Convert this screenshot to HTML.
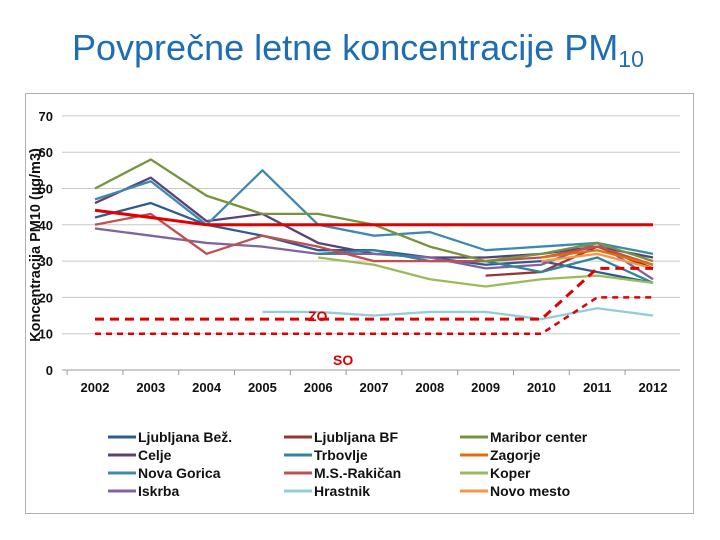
<!DOCTYPE html>
<html><head><meta charset="utf-8">
<style>
body{margin:0;width:720px;height:540px;background:#fff;overflow:hidden;font-family:"Liberation Sans",sans-serif;}
#title{position:absolute;left:72px;top:27px;font-size:36px;color:#1f6db3;white-space:nowrap;}
#title sub{font-size:23px;vertical-align:-7px;}
#frame{position:absolute;left:25px;top:93px;width:667px;height:419px;border:1px solid #b0b0b0;}
svg{position:absolute;left:0;top:0;}
</style></head><body>
<div id="title">Povprečne letne koncentracije PM<sub>10</sub></div>
<div id="frame"></div>
<svg id="chart" width="720" height="540"></svg>
<script>
const years=[2002,2003,2004,2005,2006,2007,2008,2009,2010,2011,2012];
const yTicks=[0,10,20,30,40,50,60,70];
const names=["Ljubljana Bež.","Celje","Nova Gorica","Iskrba","Ljubljana BF","Trbovlje","M.S.-Rakičan","Hrastnik","Maribor center","Zagorje","Koper","Novo mesto"];
const colors=["#2f5b8e","#5a4278","#3d8ab0","#8064a2","#943634","#31859c","#c0504d","#93cddd","#77933c","#e46c0a","#9bbb59","#f79646"];
const sLjBez=[42,46,40,37,33,33,31,29,30,27,24];
const sCelje=[46,53,41,43,35,32,31,31,32,34,31];
const sNovaGorica=[47,52,40,55,40,37,38,33,34,35,32];
const sIskrba=[39,37,35,34,32,32,31,28,29,35,25];
const sLjBF=[null,null,null,null,null,null,null,26,27,34,28];
const sTrbovlje=[null,null,null,null,32,33,30,30,27,31,24];
const sRakican=[40,43,32,37,34,30,30,30,31,34,29];
const sHrastnik=[null,null,null,16,16,15,16,16,14,17,15];
const sMaribor=[50,58,48,43,43,40,34,30,32,35,30];
const sZagorje=[null,null,null,null,null,null,null,null,31,33,29];
const sKoper=[null,null,null,null,31,29,25,23,25,26,24];
const sNovoMesto=[null,null,null,null,null,null,null,null,30,32,28];
const limitDay=[44,42,40,40,40,40,40,40,40,40,40];
const limitZO=[14,14,14,14,14,14,14,14,14,28,28];
const limitSO=[10,10,10,10,10,10,10,10,10,20,20];
const series=[sLjBez,sCelje,sNovaGorica,sIskrba,sLjBF,sTrbovlje,sRakican,sHrastnik,sMaribor,sZagorje,sKoper,sNovoMesto];

const svg=document.getElementById('chart');
const NS="http://www.w3.org/2000/svg";
const x0=95,xStep=55.8,y0=370,yUnit=3.63;
function xs(i){return x0+i*xStep;}
function ys(v){return y0-v*yUnit;}
function mk(tag,attrs){const e=document.createElementNS(NS,tag);for(const k in attrs)e.setAttribute(k,attrs[k]);svg.appendChild(e);return e;}

yTicks.forEach(t=>{
  const g=mk('line',{x1:62,x2:680,y1:ys(t),y2:ys(t),stroke:t===0?'#999':'#c8c8c8','stroke-width':1});
  
  
  const tx=mk('text',{x:53,y:ys(t)+5,'text-anchor':'end','font-size':13,'font-weight':'bold',fill:'#111'});
  tx.textContent=t;
  
  
});
years.forEach((yr,i)=>{
  const tk=mk('line',{x1:xs(i)-xStep/2,x2:xs(i)-xStep/2,y1:370,y2:375,stroke:'#999'});
  
  
  const tx=mk('text',{x:xs(i),y:392,'text-anchor':'middle','font-size':13,'font-weight':'bold',fill:'#111'});
  tx.textContent=yr;
  
  
});
const yt=mk('text',{x:0,y:0,transform:'translate(40,245) rotate(-90)','text-anchor':'middle','font-size':14.5,'font-weight':'bold',fill:'#111'});
yt.textContent='Koncentracija PM10 (µg/m3)';



function path(arr){let d='';let pen=false;arr.forEach((v,i)=>{if(v===null){pen=false;return;}d+=(pen?'L':'M')+xs(i)+' '+ys(v)+' ';pen=true;});return d;}
series.forEach((s,k)=>{
  const p=mk('path',{d:path(s),fill:'none',stroke:colors[k],'stroke-width':2.3,'stroke-linejoin':'round'});
  
  
});
const l1=mk('path',{d:path(limitDay),fill:'none',stroke:'#e00000','stroke-width':3});


const l2=mk('path',{d:path(limitZO),fill:'none',stroke:'#e00000','stroke-width':3,'stroke-dasharray':'9 6'});


const l3=mk('path',{d:path(limitSO),fill:'none',stroke:'#e00000','stroke-width':2.5,'stroke-dasharray':'6 5'});


const zo=mk('text',{x:308,y:321,'font-size':14,'font-weight':'bold',fill:'#e00000'});zo.textContent='ZO';


const so=mk('text',{x:333,y:365,'font-size':14,'font-weight':'bold',fill:'#e00000'});so.textContent='SO';



const cols=[108,284,460];
names.forEach((n,k)=>{
  const c=Math.floor(k/4),r=k%4;
  const x=cols[c],y=437+r*18;
  const ln=mk('line',{x1:x,x2:x+28,y1:y,y2:y,stroke:colors[k],'stroke-width':3});
  
  
  const t=mk('text',{x:x+30,y:y+5,'font-size':14,'font-weight':'bold',fill:'#111'});
  t.textContent=n;
  
  
});
</script>
</body></html>
